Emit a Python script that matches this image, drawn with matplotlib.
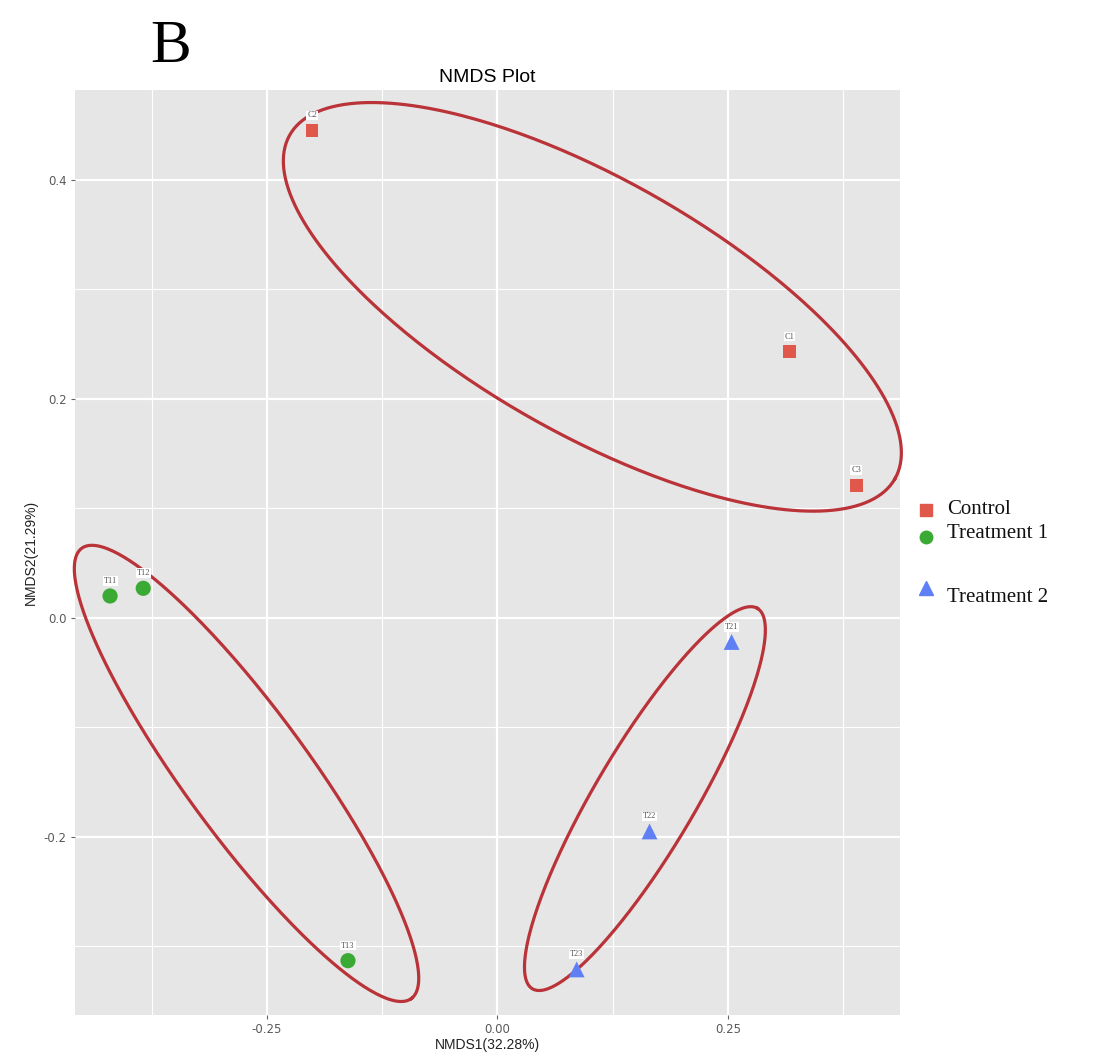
import numpy as np
import matplotlib
matplotlib.use("Agg")
import matplotlib.pyplot as plt
from matplotlib.lines import Line2D

# ---------------- data ----------------
groups = ["Control", "Treatment 1", "Treatment 2"]
sample_labels = ["C2", "C1", "C3", "T11", "T12", "T13", "T21", "T22", "T23"]
sample_groups = ["Control", "Control", "Control",
                 "Treatment 1", "Treatment 1", "Treatment 1",
                 "Treatment 2", "Treatment 2", "Treatment 2"]
nmds1 = [-0.201, 0.317, 0.389, -0.420, -0.384, -0.162, 0.254, 0.165, 0.086]
nmds2 = [0.445, 0.243, 0.121, 0.020, 0.027, -0.313, -0.022, -0.195, -0.321]

x_ticks = [-0.25, 0.00, 0.25]
x_ticklabels = ["-0.25", "0.00", "0.25"]
y_ticks = [-0.2, 0.0, 0.2, 0.4]
y_ticklabels = ["-0.2", "0.0", "0.2", "0.4"]

# hand-drawn group outlines: centre (data), semi-axes (px), angle (deg)
outline_centres = [(0.103, 0.284), (-0.272, -0.142), (0.160, -0.165)]
outline_axes_px = [(348, 127), (279, 62), (221, 50)]
outline_angles = [-29.6, -53.8, 59.4]

# ---------------- style ----------------
colors = {"Control": "#E0574C", "Treatment 1": "#3BAA34", "Treatment 2": "#5F80F5"}
markers = {"Control": "s", "Treatment 1": "o", "Treatment 2": "^"}
sizes = {"Control": 85, "Treatment 1": 120, "Treatment 2": 130}
legend_msize = {"Control": 8, "Treatment 1": 9, "Treatment 2": 10}
outline_color = "#B93339"

fig = plt.figure(figsize=(10.94, 10.60), dpi=100)
ax = fig.add_axes([75 / 1094, 45 / 1060, 825 / 1094, 925 / 1060])
ax.set_facecolor("#E6E6E6")
for s in ax.spines.values():
    s.set_visible(False)

ax.set_xlim(-0.458, 0.4366)
ax.set_ylim(-0.3626, 0.482)

ax.set_xticks(x_ticks)
ax.set_xticklabels(x_ticklabels)
ax.set_yticks(y_ticks)
ax.set_yticklabels(y_ticklabels)
ax.set_xticks([-0.375, -0.125, 0.125, 0.375], minor=True)
ax.set_yticks([-0.3, -0.1, 0.1, 0.3], minor=True)
ax.tick_params(which="major", length=3, width=0.8, color="#666666",
               labelcolor="#5A5A5A", labelsize=8.5, pad=3)
ax.tick_params(which="minor", length=0)
ax.grid(which="major", color="white", linewidth=1.6)
ax.grid(which="minor", color="white", linewidth=0.8)
ax.set_axisbelow(True)

ax.set_xlabel("NMDS1(32.28%)", fontsize=10, color="#222222", labelpad=1,
              family="Liberation Sans")
ax.set_ylabel("NMDS2(21.29%)", fontsize=10, color="#222222", labelpad=4,
              family="Liberation Sans")
ax.set_title("NMDS Plot", fontsize=14, family="Liberation Sans", pad=6)

# points
for g in groups:
    xs = [x for x, gg in zip(nmds1, sample_groups) if gg == g]
    ys = [y for y, gg in zip(nmds2, sample_groups) if gg == g]
    ax.scatter(xs, ys, marker=markers[g], s=sizes[g], color=colors[g],
               edgecolors="none", zorder=4)

for lab, x, y in zip(sample_labels, nmds1, nmds2):
    ax.annotate(lab, (x, y), xytext=(0, 8), textcoords="offset points",
                ha="center", va="bottom", fontsize=6, family="Liberation Serif",
                color="#555555", zorder=5,
                bbox=dict(boxstyle="square,pad=0.1", fc="white", ec="none"))

# outlines
t = np.linspace(0, 2 * np.pi, 400)
for (cx, cy), (a, b), ang in zip(outline_centres, outline_axes_px, outline_angles):
    A = np.deg2rad(ang)
    u, v = a * np.cos(t), b * np.sin(t)
    dx = u * np.cos(A) - v * np.sin(A)
    dy = u * np.sin(A) + v * np.cos(A)
    c = ax.transData.transform((cx, cy))
    pts = np.column_stack([c[0] + dx, c[1] + dy])
    d = ax.transData.inverted().transform(pts)
    ax.plot(d[:, 0], d[:, 1], color=outline_color, linewidth=2.3, zorder=3,
            clip_on=False)

# legend (manual, outside the panel)
legend_marker_y = [510, 537, 588]
legend_text_y = [510, 534, 598]
for g, my, ty in zip(groups, legend_marker_y, legend_text_y):
    fig.add_artist(Line2D([926 / 1094], [1 - my / 1060], transform=fig.transFigure,
                          linestyle="none", marker=markers[g], color=colors[g],
                          markersize=legend_msize[g]))
    fig.text(947 / 1094, 1 - ty / 1060, g, fontsize=15, family="Liberation Serif",
             ha="left", va="center", color="#111111")

fig.text(150 / 1094, 1 - 62 / 1060, "B", fontsize=44, family="Liberation Serif",
         ha="left", va="baseline")

fig.savefig("out.png", dpi=100)
